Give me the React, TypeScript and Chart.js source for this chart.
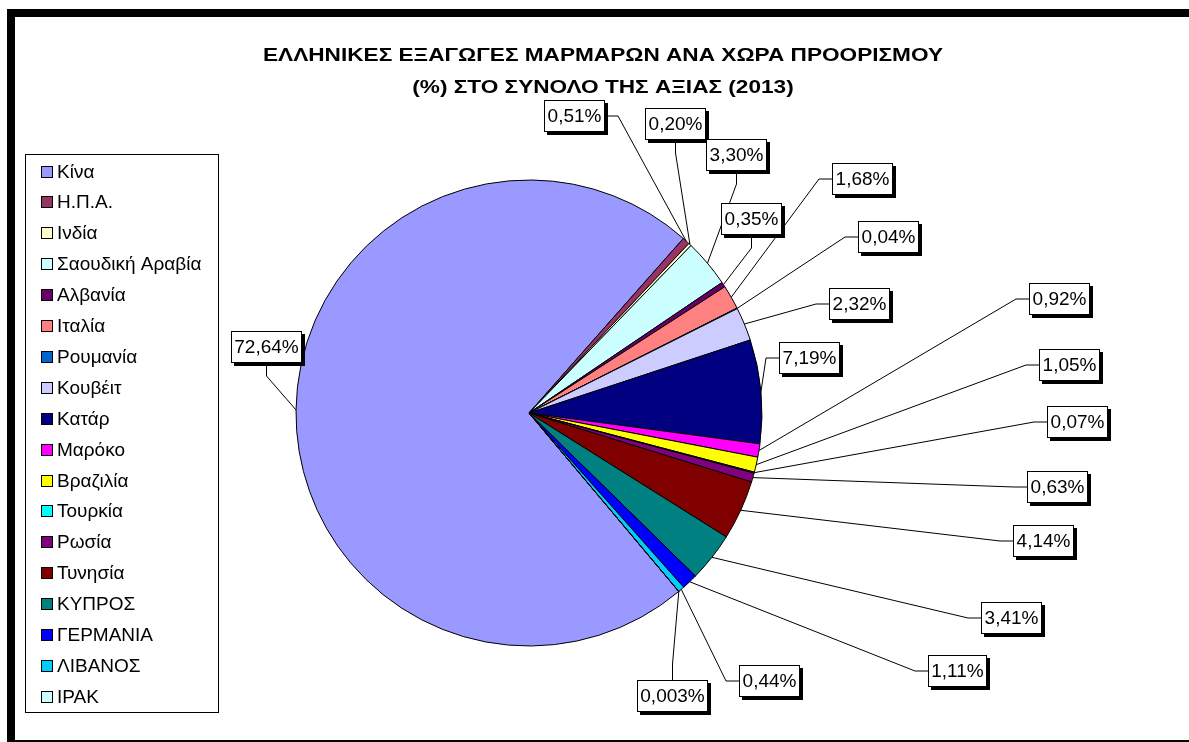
import React, { useEffect, useRef } from 'react';
import { Chart, registerables } from 'chart.js';

Chart.register(...registerables);

const countries: string[] = [
  'Κίνα', 'Η.Π.Α.', 'Ινδία', 'Σαουδική Αραβία', 'Αλβανία', 'Ιταλία', 'Ρουμανία', 'Κουβέιτ', 'Κατάρ',
  'Μαρόκο', 'Βραζιλία', 'Τουρκία', 'Ρωσία', 'Τυνησία', 'ΚΥΠΡΟΣ', 'ΓΕΡΜΑΝΙΑ', 'ΛΙΒΑΝΟΣ', 'ΙΡΑΚ',
];

const shares: number[] = [
  72.64, 0.51, 0.20, 3.30, 0.35, 1.68, 0.04, 2.32, 7.19,
  0.92, 1.05, 0.07, 0.63, 4.14, 3.41, 1.11, 0.44, 0.003,
];

const sliceColors: string[] = [
  '#9999FF', '#993366', '#FFFFCC', '#CCFFFF', '#660066', '#FF8080', '#0066CC', '#CCCCFF', '#000080',
  '#FF00FF', '#FFFF00', '#00FFFF', '#800080', '#800000', '#008080', '#0000FF', '#00CCFF', '#CCFFFF',
];

const titleLines: string[] = [
  'ΕΛΛΗΝΙΚΕΣ ΕΞΑΓΩΓΕΣ ΜΑΡΜΑΡΩΝ ΑΝΑ ΧΩΡΑ ΠΡΟΟΡΙΣΜΟΥ',
  '(%) ΣΤΟ ΣΥΝΟΛΟ ΤΗΣ ΑΞΙΑΣ (2013)',
];

// Layout of the data-label boxes: offset of box centre from pie centre, and side the leader attaches to
const labelLayout: [number, number, string][] = [
  [-262.5, -66, 'B'],
  [45.5, -297, 'R'],
  [146, -289.5, 'B'],
  [207.5, -258, 'B'],
  [222, -194.5, 'B'],
  [333, -234.5, 'L'],
  [359.5, -176, 'L'],
  [330.5, -109, 'L'],
  [280.5, -55.5, 'L'],
  [530.5, -114, 'L'],
  [540.5, -48, 'L'],
  [548.5, 9, 'L'],
  [528.5, 74, 'L'],
  [514.5, 128, 'L'],
  [482.5, 205, 'L'],
  [428.5, 258, 'L'],
  [240.5, 267.5, 'L'],
  [143, 283, 'T'],
];

const FONT = '"Liberation Sans", Arial, Helvetica, sans-serif';

function fmt(v: number): string {
  const d = v < 0.01 ? 3 : 2;
  return v.toFixed(d).replace('.', ',') + '%';
}

const decorPlugin = {
  id: 'decor',
  beforeDraw(chart: any) {
    const ctx: CanvasRenderingContext2D = chart.ctx;
    const W = chart.width;
    const H = chart.height;
    ctx.save();
    ctx.fillStyle = '#ffffff';
    ctx.fillRect(0, 0, W, H);
    // chart-area frame
    ctx.fillStyle = '#000000';
    ctx.fillRect(7, 9, 8, H - 9);
    ctx.fillRect(7, 9, W - 7, 8);
    ctx.fillRect(7, H - 2, W - 7, 2);

    // title (horizontally stretched like the original)
    ctx.font = `bold 19px ${FONT}`;
    ctx.textAlign = 'center';
    ctx.textBaseline = 'middle';
    const w1 = ctx.measureText(titleLines[0]).width;
    const sx = 680 / w1;
    titleLines.forEach((line, i) => {
      ctx.save();
      ctx.translate(603, 56 + i * 32);
      ctx.scale(sx, 1);
      ctx.fillText(line, 0, 0);
      ctx.restore();
    });

    // legend
    const labels: string[] = chart.data.labels;
    const colors: string[] = chart.data.datasets[0].backgroundColor;
    ctx.lineWidth = 1;
    ctx.strokeStyle = '#000000';
    ctx.strokeRect(25.5, 154.5, 193, 558);
    ctx.font = `19px ${FONT}`;
    ctx.textAlign = 'left';
    ctx.textBaseline = 'middle';
    labels.forEach((lab, i) => {
      const cy = Math.round(171.5 + i * 30.9);
      ctx.fillStyle = colors[i];
      ctx.fillRect(41, cy - 6, 12, 12);
      ctx.strokeStyle = '#000000';
      ctx.strokeRect(41.5, cy - 5.5, 11, 11);
      ctx.fillStyle = '#000000';
      ctx.fillText(lab, 57, cy + 1);
    });
    ctx.restore();
  },
  afterDatasetsDraw(chart: any) {
    const ctx: CanvasRenderingContext2D = chart.ctx;
    const meta = chart.getDatasetMeta(0);
    const values: number[] = chart.data.datasets[0].data;
    ctx.save();
    ctx.font = `19px ${FONT}`;
    const boxes: any[] = [];
    meta.data.forEach((arc: any, i: number) => {
      const p = arc.getProps(['x', 'y', 'startAngle', 'endAngle', 'outerRadius'], true);
      const mid = (p.startAngle + p.endAngle) / 2;
      const px = p.x + Math.cos(mid) * p.outerRadius;
      const py = p.y + Math.sin(mid) * p.outerRadius;
      const [dx, dy, side] = labelLayout[i];
      const text = fmt(values[i]);
      const w = Math.round(ctx.measureText(text).width + 7);
      const h = 32;
      const bx = p.x + dx;
      const by = p.y + dy;
      const left = Math.round(bx - w / 2);
      const top = Math.round(by - h / 2);
      let ax = 0, ay = 0, ex = 0, ey = 0;
      if (side === 'L') { ax = left; ay = top + h / 2; ex = ax - 13; ey = ay; }
      else if (side === 'R') { ax = left + w; ay = top + h / 2; ex = ax + 13; ey = ay; }
      else if (side === 'T') { ax = left + w / 2; ay = top; ex = ax; ey = ay - 16; }
      else { ax = left + w / 2; ay = top + h; ex = ax; ey = ay + 13; }
      boxes.push({ text, left, top, w, h, px, py, ax, ay, ex, ey });
    });
    ctx.strokeStyle = '#000000';
    ctx.lineWidth = 1;
    boxes.forEach((b) => {
      ctx.beginPath();
      ctx.moveTo(b.px, b.py);
      ctx.lineTo(b.ex, b.ey);
      ctx.lineTo(b.ax, b.ay);
      ctx.stroke();
    });
    ctx.textAlign = 'center';
    ctx.textBaseline = 'middle';
    boxes.forEach((b) => {
      ctx.fillStyle = '#000000';
      ctx.fillRect(b.left + 3, b.top + 3, b.w, b.h);
      ctx.fillStyle = '#ffffff';
      ctx.fillRect(b.left, b.top, b.w, b.h);
      ctx.strokeStyle = '#000000';
      ctx.strokeRect(b.left + 0.5, b.top + 0.5, b.w - 1, b.h - 1);
      ctx.fillStyle = '#000000';
      ctx.fillText(b.text, b.left + b.w / 2, b.top + b.h / 2 + 1);
    });
    ctx.restore();
  },
};

export default function App() {
  const canvasRef = useRef<HTMLCanvasElement | null>(null);

  useEffect(() => {
    const canvas = canvasRef.current;
    if (!canvas) return;
    const chart = new Chart(canvas, {
      type: 'pie',
      data: {
        labels: countries,
        datasets: [
          {
            data: shares,
            backgroundColor: sliceColors,
            borderColor: '#000000',
            borderWidth: 1,
            rotation: 140,
            radius: 233,
          } as any,
        ],
      },
      options: {
        animation: false,
        responsive: false,
        devicePixelRatio: 1,
        events: [],
        rotation: 140,
        radius: 233,
        layout: { padding: { left: 0, right: 131, top: 84, bottom: 0 } },
        plugins: {
          legend: { display: false },
          title: { display: false },
          tooltip: { enabled: false },
        },
      } as any,
      plugins: [decorPlugin],
    });
    return () => chart.destroy();
  }, []);

  return (
    <div style={{ position: 'fixed', left: 0, top: 0, width: 1189, height: 742, background: '#fff' }}>
      <canvas ref={canvasRef} width={1189} height={742} style={{ display: 'block', width: 1189, height: 742 }} />
    </div>
  );
}
